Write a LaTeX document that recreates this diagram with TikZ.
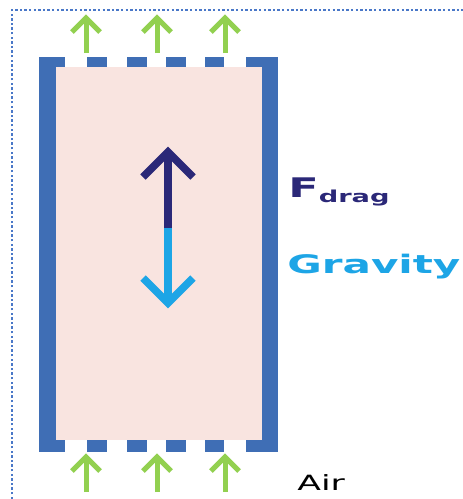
\documentclass[tikz,border=0pt]{standalone}
\usepackage{fontspec}
\newfontfamily\dvs{DejaVu Sans}
\usetikzlibrary{calc}
\definecolor{wallblue}{HTML}{3F6EB5}
\definecolor{dotblue}{HTML}{4A78C8}
\definecolor{pinkfill}{HTML}{F9E4E0}
\definecolor{airgreen}{HTML}{92D050}
\definecolor{dragnavy}{HTML}{2B2878}
\definecolor{gravblue}{HTML}{1DA5E6}
\tikzset{
  wall/.style={fill=wallblue, draw=none},
  greenarrow/.style={draw=airgreen, line width=5pt, line cap=butt, line join=miter},
  forcearrow/.style={line width=7.5pt, line join=miter},
  lbl/.style={anchor=base west, inner sep=0pt, xscale=1.65}
}
\begin{document}
\begin{tikzpicture}[x=1pt,y=-1pt]
\useasboundingbox (0,0) rectangle (463,499);
% dotted frame
\draw[dotblue, line width=2.6pt, dash pattern=on 2.4pt off 2.2pt] (12,499) -- (12,10) -- (463,10);
% interior
\fill[pinkfill] (56,67) rectangle (262,440);
% walls
\fill[wall] (39,57) rectangle (56,452);
\fill[wall] (262,57) rectangle (278,452);
\foreach \a/\b in {39/65, 87/107, 127/147, 166/186, 205/224, 246/278}{
  \fill[wall] (\a,57) rectangle (\b,67);
  \fill[wall] (\a,440) rectangle (\b,452);
}
% green arrows
\foreach \x in {86,157,225}{
  \draw[greenarrow] (\x,53) -- (\x,20);
  \draw[greenarrow] (\x-14,32) -- (\x,18) -- (\x+14,32);
  \draw[greenarrow] (\x,492) -- (\x,459);
  \draw[greenarrow] (\x-14,471) -- (\x,457) -- (\x+14,471);
}
% force arrows
\draw[forcearrow, dragnavy] (168,229) -- (168,155);
\draw[forcearrow, dragnavy] (143,177) -- (168,152) -- (193,177);
\draw[forcearrow, gravblue] (168,228) -- (168,300);
\draw[forcearrow, gravblue] (143,278) -- (168,303) -- (193,278);
% labels
\node[lbl, text=dragnavy] (fdrag) at (288,197) {\dvs\bfseries\fontsize{27}{27}\selectfont F\raisebox{-5pt}{\fontsize{16.5}{16.5}\selectfont drag}};
\node[lbl, text=gravblue] (grav) at (287,273) {\dvs\bfseries\fontsize{25.5}{25.5}\selectfont Gravity};
\node[lbl, text=black] (air) at (297,490) {\dvs\fontsize{21}{21}\selectfont Air};
\end{tikzpicture}
\end{document}
